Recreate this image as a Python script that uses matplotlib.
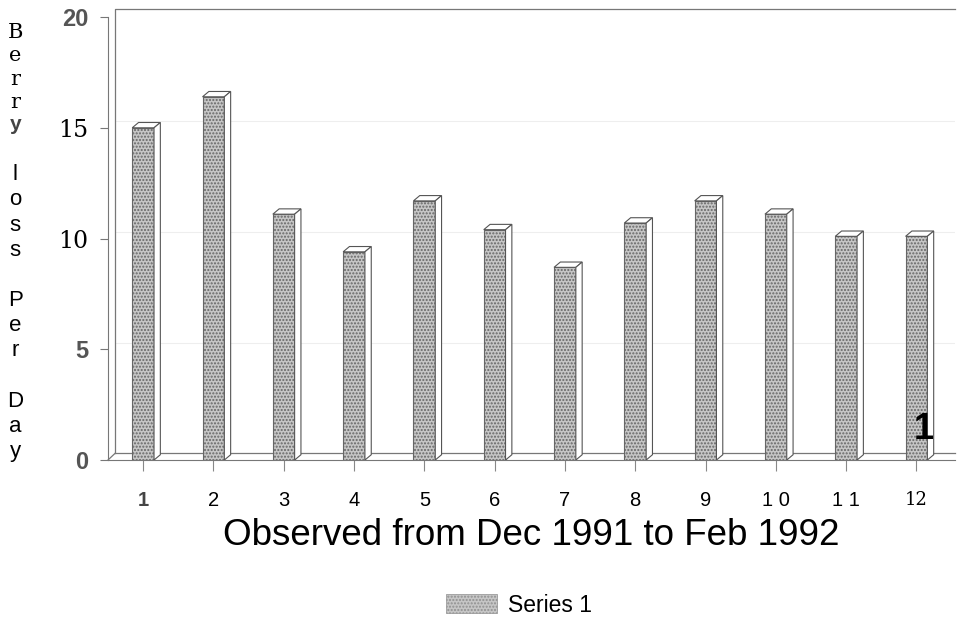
import matplotlib.pyplot as plt
from matplotlib.patches import Polygon, Patch

# data
obs = ['1', '2', '3', '4', '5', '6', '7', '8', '9', '1 0', '1 1', '12']
berry_loss = [15.0, 16.4, 11.1, 9.4, 11.7, 10.4, 8.7, 10.7, 11.7, 11.1, 10.1, 10.1]
yticks = [0, 5, 10, 15, 20]
ytick_labels = ['0', '5', '10', '15', '20']

plt.rcParams['font.family'] = ['Liberation Sans', 'DejaVu Sans']
plt.rcParams['hatch.linewidth'] = 1.0

fig = plt.figure(figsize=(9.58, 6.2), dpi=100)
ax = fig.add_axes([0.1127, 0.258, 0.8843, 0.7145])

x = list(range(1, len(obs) + 1))
w = 0.31
dx, dy = 0.09, 0.24   # fake 3d depth

# back wall + floor
ax.plot([0.6, 0.6, 12.55], [0.3, 20.35, 20.35], color='#777', lw=0.9, clip_on=False, zorder=1)
ax.plot([0.6, 12.55], [0.3, 0.3], color='#777', lw=0.9, clip_on=False, zorder=1)
ax.plot([0.5, 0.6], [0, 0.3], color='#777', lw=0.9, clip_on=False, zorder=1)
for g in [5, 10, 15]:
    ax.plot([0.6, 12.55], [g + 0.3, g + 0.3], color='#eeeeee', lw=0.8, zorder=0)

bars = ax.bar(x, berry_loss, width=w, facecolor='#c6c6c6', edgecolor='#666666',
              hatch='.....', linewidth=0.8, zorder=3)
for b in bars:
    x0 = b.get_x()
    x1 = x0 + b.get_width()
    h = b.get_height()
    top = Polygon([(x0, h), (x0 + dx, h + dy), (x1 + dx, h + dy), (x1, h)],
                  closed=True, facecolor='white', edgecolor='#555', lw=0.8, zorder=4)
    side = Polygon([(x1, 0), (x1 + dx, dy), (x1 + dx, h + dy), (x1, h)],
                   closed=True, facecolor='white', edgecolor='#555', lw=0.8, zorder=4)
    ax.add_patch(top)
    ax.add_patch(side)

ax.set_xlim(0.5, 12.55)
ax.set_ylim(0, 20)
ax.spines['top'].set_visible(False)
ax.spines['right'].set_visible(False)
ax.spines['left'].set_color('#777')
ax.spines['bottom'].set_color('#777')

ax.set_xticks(x)
ax.set_xticklabels(obs, fontsize=14.5)
ax.tick_params(axis='x', length=8, width=0.8, color='#888', pad=14)
for lbl in ax.get_xticklabels():
    if lbl.get_text() == '12':
        lbl.set_fontfamily('serif')
        lbl.set_fontsize(13)
    elif lbl.get_text() == '1':
        lbl.set_fontweight('bold')
        lbl.set_color('#444')

ax.set_yticks(yticks)
ax.set_yticklabels(ytick_labels, fontsize=17)
ax.tick_params(axis='y', length=6, width=0.8, color='#777', pad=8)
for lbl in ax.get_yticklabels():
    if lbl.get_text() in ('10', '15'):
        lbl.set_fontfamily('serif')
        lbl.set_color('black')
    else:
        lbl.set_fontweight('bold')
        lbl.set_color('#555')

ax.set_xlabel('Observed from Dec 1991 to Feb 1992', fontsize=26.5, labelpad=6)

# stacked y label
fig.text(0.016, 0.963, 'B\ne\nr\nr', fontsize=15, family='serif', va='top', ha='center',
         linespacing=1.3)
fig.text(0.016, 0.815, 'y', fontsize=15, fontweight='bold', color='#444', va='top', ha='center')
fig.text(0.016, 0.735, 'l\no\ns\ns\n\nP\ne\nr\n\nD\na\ny', fontsize=16, va='top', ha='center',
         linespacing=1.26)

# stray mark in the scan
ax.text(12.1, 0.6, '1', fontsize=26, fontweight='bold', ha='center', va='bottom', zorder=6)

handle = Patch(facecolor='#c6c6c6', edgecolor='#909090', hatch='.....', linewidth=0.5)
fig.legend([handle], ['Series 1'], loc='center', bbox_to_anchor=(0.542, 0.024),
           frameon=False, fontsize=16.5, handlelength=2.2, handleheight=0.9, handletextpad=0.5)

fig.savefig('out.png', dpi=100)
